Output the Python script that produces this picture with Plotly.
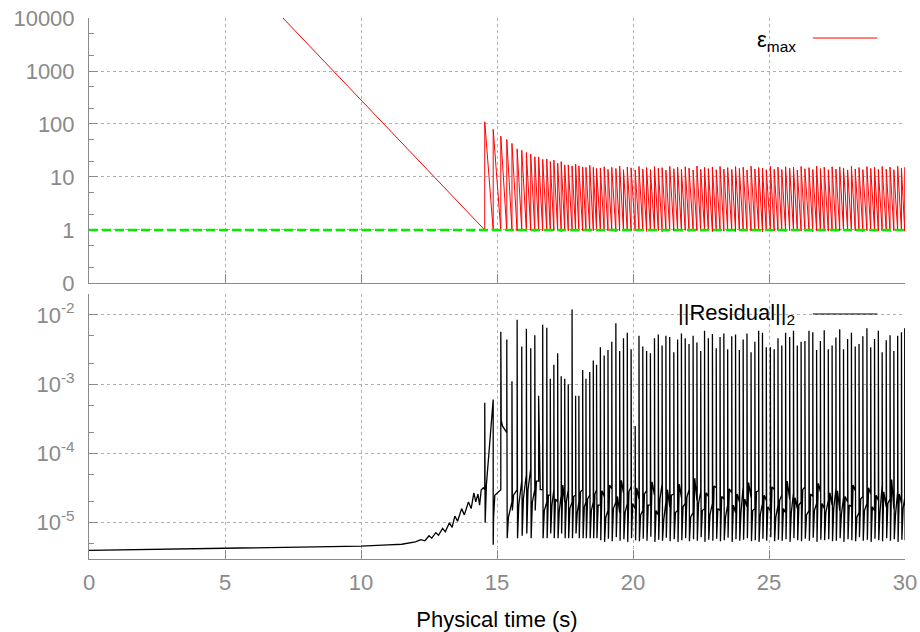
import plotly.graph_objects as go

# ---------------- data ----------------
# epsilon_max: initial monotone descent (time s, value)
EPS_DESC_T = [7.13, 8.0, 9.0, 10.0, 11.0, 12.0, 13.0, 14.0, 14.52]
EPS_DESC_V = [10000, 3390, 977, 282, 81, 23, 6.6, 1.9, 1.0]

# times of the restart spikes (s)
SPIKE_T = [
    14.55, 14.86, 15.14, 15.36, 15.55, 15.74, 15.91, 16.08, 16.24, 16.39,
    16.53, 16.68, 16.83, 16.96, 17.09, 17.23, 17.36, 17.49, 17.62, 17.76,
    17.89, 18.01, 18.15, 18.27, 18.41, 18.54, 18.66,
    18.80, 18.94, 19.08, 19.22, 19.37, 19.51, 19.65, 19.79, 19.93, 20.08,
    20.22, 20.36, 20.50, 20.64, 20.79, 20.93, 21.07, 21.21, 21.35, 21.50,
    21.64, 21.78, 21.92, 22.06, 22.21, 22.35, 22.49, 22.63, 22.77, 22.92,
    23.06, 23.20, 23.34, 23.48, 23.63, 23.77, 23.91, 24.05, 24.19, 24.34,
    24.48, 24.62, 24.76, 24.90, 25.05, 25.19, 25.33, 25.47, 25.61, 25.76,
    25.90, 26.04, 26.18, 26.32, 26.47, 26.61, 26.75, 26.89, 27.03, 27.18,
    27.32, 27.46, 27.60, 27.74, 27.89, 28.03, 28.17, 28.31, 28.45, 28.60,
    28.74, 28.88, 29.02, 29.16, 29.31, 29.45, 29.59, 29.73, 29.87, 29.99,
]

# epsilon_max peak at each spike
EPS_PEAK = [
    110, 79, 59, 51, 43, 34, 32, 29, 27, 24,
    24, 21.6, 21.9, 19.5, 20.8, 18.3, 19.5, 16.9, 17, 16.2,
    17.6, 16.2, 15.5, 15.2, 16.6, 15.2, 14.5,
    14.8, 15.6, 13.9, 15.2, 14.5, 16.0, 13.7, 15.4, 14.9, 13.6,
    15.8, 14.2, 15.1, 13.8, 15.7, 14.6, 15.0, 13.5, 15.9, 14.3,
    15.3, 13.9, 15.6, 14.7, 13.6, 16.1, 14.0, 15.2, 14.4, 15.5,
    13.7, 15.8, 14.1, 15.0, 13.9, 15.7, 14.5, 15.3, 13.6, 16.0,
    14.2, 15.1, 14.8, 13.7, 15.9, 14.0, 15.4, 13.8, 15.6, 14.6,
    15.2, 13.5, 15.8, 14.3, 15.0, 13.9, 16.0, 14.4, 15.3, 13.7,
    15.6, 14.1, 15.5, 14.8, 13.6, 15.9, 14.2, 15.1, 13.8, 15.7,
    14.5, 15.2, 13.9, 15.8, 14.0, 15.4, 13.7, 16.0, 14.6, 15.3,
]

# epsilon_max just before each spike
EPS_TROUGH = [
    1.0, 0.98, 0.97, 0.96, 0.97, 0.95, 0.97, 0.96, 0.98, 0.94,
    0.97, 0.96, 0.97, 0.95, 0.97, 0.96, 0.93, 0.97, 0.96, 0.98,
    0.95, 0.97, 0.96, 0.97, 0.94, 0.97, 0.96,
    0.97, 0.95, 0.96, 0.98, 0.93, 0.97, 0.96, 0.97, 0.95, 0.96,
    0.98, 0.96, 0.94, 0.97, 0.96, 0.97, 0.93, 0.96, 0.97, 0.95,
    0.96, 0.97, 0.98, 0.94, 0.96, 0.97, 0.95, 0.96, 0.97, 0.93,
    0.96, 0.98, 0.95, 0.97, 0.96, 0.94, 0.97, 0.96, 0.97, 0.95,
    0.96, 0.97, 0.93, 0.96, 0.98, 0.95, 0.97, 0.96, 0.94, 0.97,
    0.96, 0.97, 0.95, 0.96, 0.98, 0.93, 0.97, 0.96, 0.97, 0.95,
    0.96, 0.94, 0.97, 0.96, 0.98, 0.95, 0.97, 0.96, 0.93, 0.97,
    0.96, 0.97, 0.95, 0.96, 0.98, 0.94, 0.97, 0.96, 0.97, 0.95,
]

EPS_LIMIT_T = [0, 30]
EPS_LIMIT_V = [1, 1]

# residual before the spikes (time s, value x1e-6)
RES_BASE_T = [0, 5, 7.5, 10, 11, 11.5, 12.0, 12.2, 12.35, 12.5, 12.6, 12.75,
              12.85, 13.0, 13.1, 13.25, 13.35, 13.45, 13.55, 13.7, 13.8,
              13.95, 14.05, 14.15, 14.22, 14.3, 14.36, 14.42, 14.5]
RES_BASE_E6 = [4.0, 4.3, 4.4, 4.6, 4.8, 4.9, 5.3, 5.7, 5.5, 6.5, 6.0, 7.2,
               6.6, 8.3, 7.4, 10, 8.6, 12.5, 10.5, 16, 13, 20, 16, 27, 20,
               26, 18, 30, 32]

# residual per spike: level before (x1e-5), peak (x1e-3),
# level right after (x1e-6), level between spikes (x1e-5)
RES_BEFORE_E5 = [
    3.0, 60, 3.0, 20, 2.0, 3.0, 4.0, 5.0, 6.0, 3.0,
    4.0, 3.0, 2.0, 2.5, 3.0, 2.0, 2.5, 2.0, 3.0, 2.0,
    2.5, 2.0, 3.0, 2.0, 2.5, 2.0, 3.0,
    1.8, 2.4, 1.5, 3.1, 2.0, 1.4, 2.7, 1.9, 3.3, 1.6,
    2.2, 1.5, 2.9, 1.8, 2.5, 1.3, 3.6, 2.0, 1.7, 2.6,
    1.5, 2.3, 1.9, 3.0, 1.4, 2.1, 2.8, 1.6, 2.4, 1.9,
    3.2, 1.5, 2.2, 1.8, 2.7, 1.4, 2.0, 3.4, 1.7, 2.3,
    1.6, 2.9, 1.9, 2.1, 1.5, 3.0, 1.8, 2.5, 1.4, 2.2,
    2.7, 1.6, 2.0, 3.3, 1.5, 2.4, 1.9, 2.8, 1.6, 2.1,
    1.8, 3.1, 1.5, 2.3, 2.0, 1.7, 2.9, 1.4, 2.4, 1.9,
    2.6, 1.5, 2.1, 3.5, 1.7, 2.2, 1.6, 2.8, 1.9, 2.3,
]
RES_PEAK_E3 = [
    0.54, 0.0048, 5.7, 4.4, 1.1, 8.5, 3.5, 6.3, 3.3, 5.1,
    0.68, 7.2, 6.5, 1.2, 1.9, 2.8, 1.3, 1.2, 1.0, 12,
    0.68, 0.68, 1.6, 1.2, 1.5, 2.2, 1.9,
    3.4, 2.6, 3.1, 4.1, 7.6, 3.0, 4.6, 5.5, 3.2, 0.25,
    5.0, 3.5, 3.0, 2.8, 4.6, 5.2, 3.6, 5.0, 4.8, 2.9,
    4.4, 5.4, 4.6, 3.8, 5.0, 4.0, 3.0, 5.9, 4.6, 5.3,
    3.3, 4.8, 5.4, 3.2, 4.9, 5.2, 3.1, 4.4, 5.4, 2.9,
    4.1, 5.9, 5.5, 3.4, 3.4, 3.2, 4.6, 3.6, 5.5, 4.8,
    5.9, 3.6, 4.1, 4.2, 5.9, 5.6, 3.1, 4.2, 6.0, 3.2,
    3.6, 4.7, 6.2, 3.2, 4.5, 5.5, 3.5, 3.8, 4.9, 6.4,
    3.4, 4.5, 5.9, 2.9, 4.3, 5.1, 3.0, 5.0, 5.6, 6.4,
]
RES_AFTER_E6 = [
    10, 12, 300, 6.0, 15, 6.0, 6.5, 7.0, 6.0, 15,
    250, 6.0, 6.0, 7.0, 6.0, 6.0, 7.0, 6.0, 6.0, 6.0,
    7.0, 6.0, 6.0, 6.0, 6.0, 6.0, 6.0,
    5.6, 5.3, 5.9, 5.4, 6.2, 5.5, 5.8, 5.3, 6.0, 5.6,
    5.4, 5.9, 5.5, 6.3, 5.3, 5.7, 5.5, 6.1, 5.4, 5.8,
    5.3, 5.6, 6.0, 5.4, 5.8, 5.5, 6.2, 5.3, 5.7, 5.5,
    5.9, 5.4, 5.6, 6.1, 5.3, 5.8, 5.5, 5.7, 6.0, 5.4,
    5.6, 5.3, 5.9, 5.5, 6.2, 5.4, 5.7, 5.5, 5.8, 5.3,
    6.0, 5.6, 5.4, 5.9, 5.5, 6.1, 5.3, 5.7, 5.6, 5.8,
    5.4, 5.5, 6.0, 5.3, 5.8, 5.6, 5.4, 6.2, 5.5, 5.7,
    5.3, 5.9, 5.6, 5.4, 6.0, 5.5, 5.8, 5.3, 5.7, 5.6,
]
RES_MID_E5 = [
    3.5, 2.5, 25, 1.2, 2.5, 1.8, 2.2, 3.0, 2.0, 4.0,
    3.0, 1.5, 2.5, 1.8, 2.2, 1.5, 3.5, 2.0, 1.6, 2.4,
    1.4, 2.8, 1.7, 2.2, 1.5, 2.6, 1.8,
    2.9, 1.2, 3.5, 1.6, 2.4, 4.1, 1.4, 2.8, 1.9, 3.2,
    1.3, 2.6, 1.8, 3.9, 1.5, 2.2, 1.1, 3.0, 2.5, 1.4,
    3.6, 1.7, 2.3, 1.2, 4.4, 1.9, 1.5, 2.7, 1.3, 3.4,
    1.6, 2.4, 1.2, 3.1, 1.8, 2.6, 1.4, 2.2, 3.8, 1.5,
    2.8, 1.3, 2.5, 1.7, 3.3, 1.2, 2.1, 1.6, 4.0, 1.4,
    2.3, 1.8, 3.0, 1.3, 2.6, 1.5, 3.7, 1.9, 1.4, 2.7,
    1.6, 2.9, 1.3, 2.4, 1.8, 3.5, 1.2, 2.2, 1.5, 3.2,
    1.7, 2.5, 1.4, 2.8, 1.9, 4.2, 1.3, 2.6, 1.6, 2.0,
]

X_TICKS = [0, 5, 10, 15, 20, 25, 30]
TOP_TICKS = [0.1, 1, 10, 100, 1000, 10000]
TOP_TICK_TEXT = ["0", "1", "10", "100", "1000", "10000"]
TOP_MINOR = [0.2, 0.5, 2, 5, 20, 50, 200, 500, 2000, 5000]
BOT_TICKS = [1e-5, 1e-4, 1e-3, 1e-2]
BOT_TICK_TEXT = ["10<sup>-5</sup>", "10<sup>-4</sup>", "10<sup>-3</sup>", "10<sup>-2</sup>"]
BOT_MINOR = [5e-6, 2e-5, 5e-5, 2e-4, 5e-4, 2e-3, 5e-3, 2e-2]

n = len(SPIKE_T)
for arr in (EPS_PEAK, EPS_TROUGH, RES_BEFORE_E5, RES_PEAK_E3, RES_AFTER_E6, RES_MID_E5):
    assert len(arr) == n, len(arr)

# ---------------- build the line paths ----------------
ex, ey = list(EPS_DESC_T), list(EPS_DESC_V)
for t, lo, hi in zip(SPIKE_T, EPS_TROUGH, EPS_PEAK):
    ex += [t, t]
    ey += [lo, hi]

rx = list(RES_BASE_T)
ry = [v * 1e-6 for v in RES_BASE_E6]
for t, b, p, a, m in zip(SPIKE_T, RES_BEFORE_E5, RES_PEAK_E3, RES_AFTER_E6, RES_MID_E5):
    rx += [t, t, t + 0.015, t + 0.06]
    ry += [b * 1e-5, p * 1e-3, a * 1e-6, m * 1e-5]

# ---------------- figure ----------------
GRAY = "#8a8a8a"
GRID = "#b0b0b0"
FONT = "Liberation Sans, Arial, sans-serif"

fig = go.Figure()
fig.add_trace(go.Scatter(x=ex, y=ey, mode="lines", line=dict(color="#ff0000", width=1),
                         xaxis="x", yaxis="y", showlegend=False))
fig.add_trace(go.Scatter(x=EPS_LIMIT_T, y=EPS_LIMIT_V, mode="lines",
                         line=dict(color="#00ee00", width=2.5, dash="9px,4px"),
                         xaxis="x", yaxis="y", showlegend=False))
fig.add_trace(go.Scatter(x=rx, y=ry, mode="lines", line=dict(color="#000000", width=1.3),
                         xaxis="x2", yaxis="y2", showlegend=False))

xcommon = dict(range=[0, 30], tickvals=X_TICKS, ticks="inside", ticklen=9, tickcolor=GRAY,
               showline=True, linecolor=GRAY, linewidth=1, showgrid=True, gridcolor=GRID,
               griddash="dot", gridwidth=1, zeroline=False, automargin=False)
ycommon = dict(type="log", ticks="inside", ticklen=9, tickcolor=GRAY, showline=True,
               linecolor=GRAY, linewidth=1, showgrid=True, gridcolor=GRID, griddash="dot",
               gridwidth=1, zeroline=False, ticklabelstandoff=9, automargin=False,
               tickfont=dict(size=22, color=GRAY, family=FONT))

fig.update_layout(
    width=920, height=632,
    margin=dict(l=89, r=15, t=18, b=73, autoexpand=False),
    paper_bgcolor="white", plot_bgcolor="white",
    font=dict(family=FONT, size=22, color=GRAY),
    xaxis=dict(**xcommon, anchor="y", showticklabels=False),
    yaxis=dict(**ycommon, domain=[0.5102, 1.0], anchor="x", range=[-1, 4],
               tickmode="array", tickvals=TOP_TICKS, ticktext=TOP_TICK_TEXT,
               minor=dict(tickmode="array", tickvals=TOP_MINOR, ticks="inside",
                          ticklen=5, tickcolor=GRAY, showgrid=False)),
    xaxis2=dict(**xcommon, anchor="y2", matches="x", showticklabels=True,
                ticklabelstandoff=4,
                tickfont=dict(size=22, color=GRAY, family=FONT),
                title=dict(text="Physical time (s)", standoff=19,
                           font=dict(size=22, color="#000000", family=FONT))),
    yaxis2=dict(**ycommon, domain=[0.0, 0.4898], anchor="x2",
                range=[-5.5229, -1.699],
                tickmode="array", tickvals=BOT_TICKS, ticktext=BOT_TICK_TEXT,
                minor=dict(tickmode="array", tickvals=BOT_MINOR, ticks="inside",
                           ticklen=5, tickcolor=GRAY, showgrid=False)),
)

# legend entries (gnuplot style: text then line sample)
fig.add_annotation(xref="paper", yref="paper", x=0.869, y=0.958, xanchor="right",
                   yanchor="middle", showarrow=False,
                   text="ε<sub>max</sub>", font=dict(size=22, color="#000000", family=FONT))
fig.add_shape(type="line", xref="paper", yref="paper", x0=0.887, x1=0.966, y0=0.963,
              y1=0.963, line=dict(color="#ff0000", width=1))
fig.add_annotation(xref="paper", yref="paper", x=0.8676, y=0.4529, xanchor="right",
                   yanchor="middle", showarrow=False,
                   text="||Residual||<sub>2</sub>", font=dict(size=22, color="#000000", family=FONT))
fig.add_shape(type="line", xref="paper", yref="paper", x0=0.887, x1=0.966, y0=0.4529,
              y1=0.4529, line=dict(color="#000000", width=1))

fig.write_html("out.html", config={"displayModeBar": False},
               post_script="document.body.style.margin='0px';document.body.style.overflow='hidden';")
